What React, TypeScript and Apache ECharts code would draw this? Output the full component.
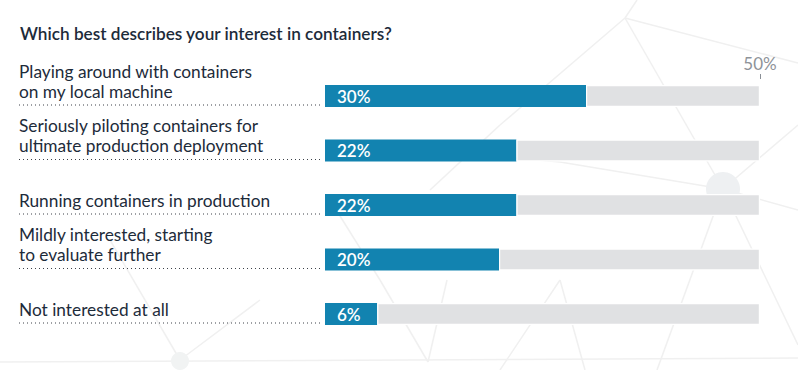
import React, { useEffect, useRef } from "react";
import * as echarts from "echarts";

const title = "Which best describes your interest in containers?";
const categories = [
  "Playing around with containers\non my local machine",
  "Seriously piloting containers for\nultimate production deployment",
  "Running containers in production",
  "Mildly interested, starting\nto evaluate further",
  "Not interested at all",
];
const values = [30, 22, 22, 20, 6];
const axisMax = 50;
const tickValues = [50];

const FONT = "Lato, 'Open Sans', sans-serif";
const TEXT = "#1d2b3a";
const BLUE = "#1283b0";
const GRAY = "#e0e1e3";
const LABEL_X = 19;
const BAR_W = 22;

// faint decorative network in the background
const netLines: number[][][] = [
  [[625, 18], [637, 0]],
  [[625, 18], [798, 63]],
  [[625, 18], [500, 125]],
  [[500, 125], [430, 190]],
  [[625, 18], [723, 189]],
  [[723, 189], [798, 125]],
  [[723, 189], [798, 210]],
  [[723, 189], [560, 162]],
  [[560, 162], [420, 150]],
  [[723, 189], [657, 370]],
  [[723, 189], [798, 345]],
  [[428, 362], [380, 280]],
  [[428, 362], [447, 280]],
  [[380, 280], [330, 200]],
  [[0, 362], [798, 358]],
  [[180, 360], [110, 240]],
  [[180, 360], [260, 300]],
  [[560, 280], [585, 370]],
  [[560, 280], [500, 370]],
];

export default function App() {
  const ref = useRef<HTMLDivElement>(null);
  useEffect(() => {
    if (!ref.current) return;
    const chart = echarts.init(ref.current, undefined, { renderer: "svg" });
    const graphic: any[] = netLines.map((l) => ({
      type: "line",
      silent: true,
      z: -10,
      shape: { x1: l[0][0], y1: l[0][1], x2: l[1][0], y2: l[1][1] },
      style: { stroke: "#f0f0f0", lineWidth: 1.5 },
    }));
    graphic.push({
      type: "circle",
      silent: true,
      z: -10,
      shape: { cx: 723, cy: 189, r: 17 },
      style: { fill: "#eef0f2" },
    });
    graphic.push({
      type: "circle",
      silent: true,
      z: -10,
      shape: { cx: 180, cy: 361, r: 9 },
      style: { fill: "#f1f3f3" },
    });
    chart.setOption({
      animation: false,
      backgroundColor: "#ffffff",
      textStyle: { fontFamily: FONT },
      title: {
        text: title,
        left: 15,
        top: 20,
        textStyle: {
          fontFamily: FONT,
          fontSize: 17.2,
          fontWeight: 600,
          color: TEXT,
        },
      },
      graphic,
      grid: { left: 325, right: 38, top: 68.75, bottom: 28.75 },
      xAxis: {
        type: "value",
        min: 0,
        max: axisMax,
        interval: axisMax,
        position: "top",
        offset: -10.25,
        axisLine: { show: false },
        splitLine: { show: false },
        axisTick: {
          show: true,
          customValues: tickValues,
          length: 5,
          lineStyle: { color: "#8a8f96", width: 1 },
        },
        axisLabel: {
          show: true,
          customValues: tickValues,
          formatter: "{value}%",
          color: "#8e9399",
          fontSize: 17,
          fontFamily: FONT,
          margin: 7,
        },
      },
      yAxis: {
        type: "category",
        inverse: true,
        data: categories,
        axisLine: { show: false },
        axisTick: { show: false },
        axisLabel: { show: false },
        splitLine: { show: false },
      },
      series: [
        {
          type: "bar",
          stack: "total",
          data: values,
          barWidth: BAR_W,
          itemStyle: { color: BLUE },
          label: {
            show: true,
            position: "insideLeft",
            distance: 12,
            formatter: "{c}%",
            color: "#ffffff",
            fontSize: 17,
            fontWeight: 600,
            fontFamily: FONT,
          },
        },
        {
          type: "bar",
          stack: "total",
          data: values.map((v) => axisMax - v),
          barWidth: BAR_W,
          itemStyle: { color: GRAY, borderColor: "#ffffff", borderWidth: 1.2 },
          silent: true,
        },
        {
          type: "custom",
          clip: false,
          data: categories.map((_, i) => [0, i]),
          encode: { x: 0, y: 1 },
          renderItem: (params: any, api: any) => {
            const idx = params.dataIndex;
            const p = api.coord([0, idx]);
            const yLine = p[1] + BAR_W / 2 - 2;
            return {
              type: "group",
              children: [
                {
                  type: "line",
                  shape: { x1: LABEL_X, y1: yLine, x2: p[0] - 3, y2: yLine },
                  style: { stroke: "#3c4148", lineWidth: 1, lineDash: [1, 3] },
                },
                {
                  type: "text",
                  x: LABEL_X,
                  y: p[1] + 5,
                  style: {
                    text: categories[idx],
                    fill: TEXT,
                    fontSize: 17.3,
                    fontFamily: FONT,
                    lineHeight: 20,
                    align: "left",
                    verticalAlign: "bottom",
                  },
                },
              ],
            };
          },
        },
      ],
    });
    return () => chart.dispose();
  }, []);
  return <div ref={ref} style={{ width: 798, height: 370, position: "absolute", left: 0, top: 0 }} />;
}
